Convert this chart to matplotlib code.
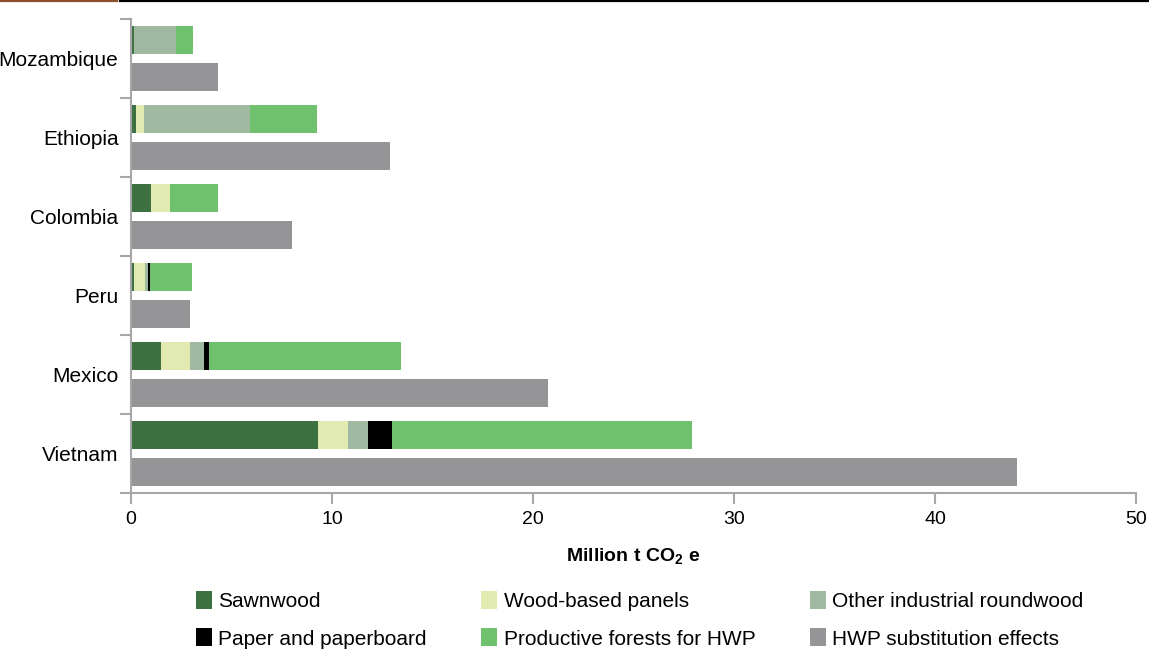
import numpy as np
import matplotlib
matplotlib.use('Agg')
import matplotlib.pyplot as plt
from matplotlib.lines import Line2D

plt.rcParams['font.family'] = ['Liberation Sans', 'DejaVu Sans']
plt.rcParams['mathtext.default'] = 'regular'

# Data (million t CO2e), bottom to top
countries = ['Vietnam', 'Mexico', 'Peru', 'Colombia', 'Ethiopia', 'Mozambique']
sawnwood = [9.3, 1.5, 0.15, 1.0, 0.25, 0.15]
panels = [1.5, 1.43, 0.55, 0.94, 0.4, 0.0]
other_round = [1.0, 0.7, 0.15, 0.0, 5.27, 2.09]
paper = [1.2, 0.25, 0.12, 0.0, 0.0, 0.0]
productive = [14.9, 9.55, 2.05, 2.4, 3.33, 0.84]
substitution = [44.1, 20.75, 2.93, 8.0, 12.9, 4.33]

stack_names = ['Sawnwood', 'Wood-based panels', 'Other industrial roundwood',
               'Paper and paperboard', 'Productive forests for HWP']
stack_values = [sawnwood, panels, other_round, paper, productive]
stack_colors = ['#3d7142', '#e1ebb1', '#9fbaa0', '#000000', '#6fc16d']
SUB_COLOR = '#959598'
AXIS_GRAY = '#a7a7a9'

fig = plt.figure(figsize=(11.49, 6.65), dpi=100)
ax = fig.add_axes([0.114, 0.2586, 0.8747, 0.7128])

y = np.arange(len(countries))
bar_h = 0.355
left = np.zeros(len(countries))
for name, vals, col in zip(stack_names, stack_values, stack_colors):
    ax.barh(y + 0.235, vals, left=left, height=bar_h, color=col, label=name)
    left += np.array(vals)
ax.barh(y - 0.235, substitution, height=bar_h, color=SUB_COLOR,
        label='HWP substitution effects')

ax.set_xlim(0, 50)
ax.set_ylim(-0.5, len(countries) - 0.5)
ax.set_xticks(np.arange(0, 51, 10))
ax.set_yticks(np.arange(-0.5, len(countries), 1.0))
ax.set_yticklabels([])
ax.set_yticks(y, minor=True)
ax.set_yticklabels(countries, minor=True, fontsize=15)
ax.tick_params(axis='y', which='minor', length=0, pad=9)
ax.tick_params(axis='y', which='major', length=8, color=AXIS_GRAY, width=1.5)
ax.tick_params(axis='x', length=8, color=AXIS_GRAY, width=1.5, labelsize=14, pad=5)

for s in ['top', 'right']:
    ax.spines[s].set_visible(False)
for s in ['left', 'bottom']:
    ax.spines[s].set_color(AXIS_GRAY)
    ax.spines[s].set_linewidth(1.5)

ax.set_xlabel(r'Million t CO$_2$ e', fontsize=14, fontweight='bold', labelpad=13)

h, l = ax.get_legend_handles_labels()
order = [0, 3, 1, 4, 2, 5]
ax.legend([h[i] for i in order], [l[i] for i in order], ncol=3,
          loc='upper left', bbox_to_anchor=(196 / 1149, 1 - 591 / 665),
          bbox_transform=fig.transFigure, borderaxespad=0, borderpad=0,
          frameon=False, fontsize=15, handlelength=0.78, handleheight=0.95,
          handletextpad=0.3, columnspacing=2.6, labelspacing=0.83)

# Decorative header lines
fig.add_artist(Line2D([0, 117 / 1149], [1 - 1.2 / 665] * 2, color='#8b4f2a', lw=1.6,
                      transform=fig.transFigure))
fig.add_artist(Line2D([120 / 1149, 1], [1 - 1.2 / 665] * 2, color='black', lw=1.6,
                      transform=fig.transFigure))

fig.savefig('out.png', dpi=100, facecolor='white')
